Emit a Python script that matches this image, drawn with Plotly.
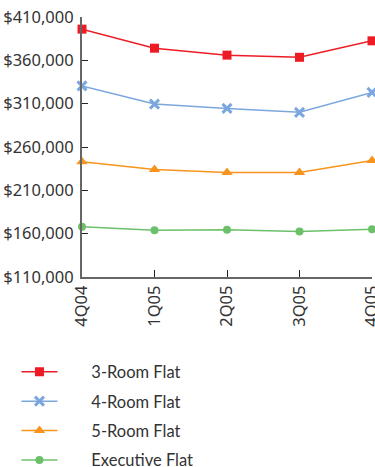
import plotly.graph_objects as go

quarters = ["4Q04", "1Q05", "2Q05", "3Q05", "4Q05"]
room3 = [396000, 374000, 366000, 363500, 382500]
room4 = [330500, 309500, 304500, 300000, 323000]
room5 = [243000, 234000, 230500, 230500, 244500]
execf = [168000, 164000, 164500, 162500, 165000]
y_ticks = [110000, 160000, 210000, 260000, 310000, 360000, 410000]
y_labels = ["$110,000", "$160,000", "$210,000", "$260,000", "$310,000", "$360,000", "$410,000"]

series = [
    ("3-Room Flat", room3, "#ED1C24", "square", 9),
    ("4-Room Flat", room4, "#7BA7DE", "x-thin", 9),
    ("5-Room Flat", room5, "#F7941D", "triangle-up", 10),
    ("Executive Flat", execf, "#6CC06A", "circle", 8),
]

pad = "\u2003\u2003\u2009\u2009"
fig = go.Figure()
for i, (name, vals, col, sym, sz) in enumerate(series):
    mk = dict(symbol=sym, size=sz, color=col)
    if sym == "x-thin":
        mk["line"] = dict(color=col, width=3)
    fig.add_trace(go.Scatter(
        x=quarters, y=vals, name=pad + name, mode="lines+markers", legendgroup=f"g{i}",
        line=dict(color=col, width=1.5), marker=mk, cliponaxis=False,
    ))

font = "Noto Sans, Open Sans, sans-serif"
fig.update_layout(
    width=375, height=467,
    margin=dict(l=82, r=3, t=17, b=190, autoexpand=False),
    plot_bgcolor="white", paper_bgcolor="white",
    font=dict(family=font, size=16, color="#333333"),
    showlegend=True,
    legend=dict(x=-0.226, y=-0.298, xanchor="left", yanchor="top",
                font=dict(family="Lato, sans-serif", size=16.5, color="#333333"),
                tracegroupgap=5, itemwidth=36, bgcolor="rgba(0,0,0,0)"),
    xaxis=dict(type="category", categoryorder="array", categoryarray=quarters,
               range=[0, 4], tickangle=-90, ticks="inside", ticklen=7,
               tickcolor="#222", showline=True, linecolor="#666", linewidth=2,
               showgrid=False, zeroline=False, tickfont=dict(size=16.5),
               automargin=False),
    yaxis=dict(range=[110000, 410000], tickvals=y_ticks, ticktext=y_labels,
               ticks="inside", ticklen=6, tickcolor="#222", showline=True,
               linecolor="#666", linewidth=2, showgrid=False, zeroline=False,
               tickfont=dict(size=16.5), automargin=False, ticklabelstandoff=3),
)
fig.write_html("out.html")
